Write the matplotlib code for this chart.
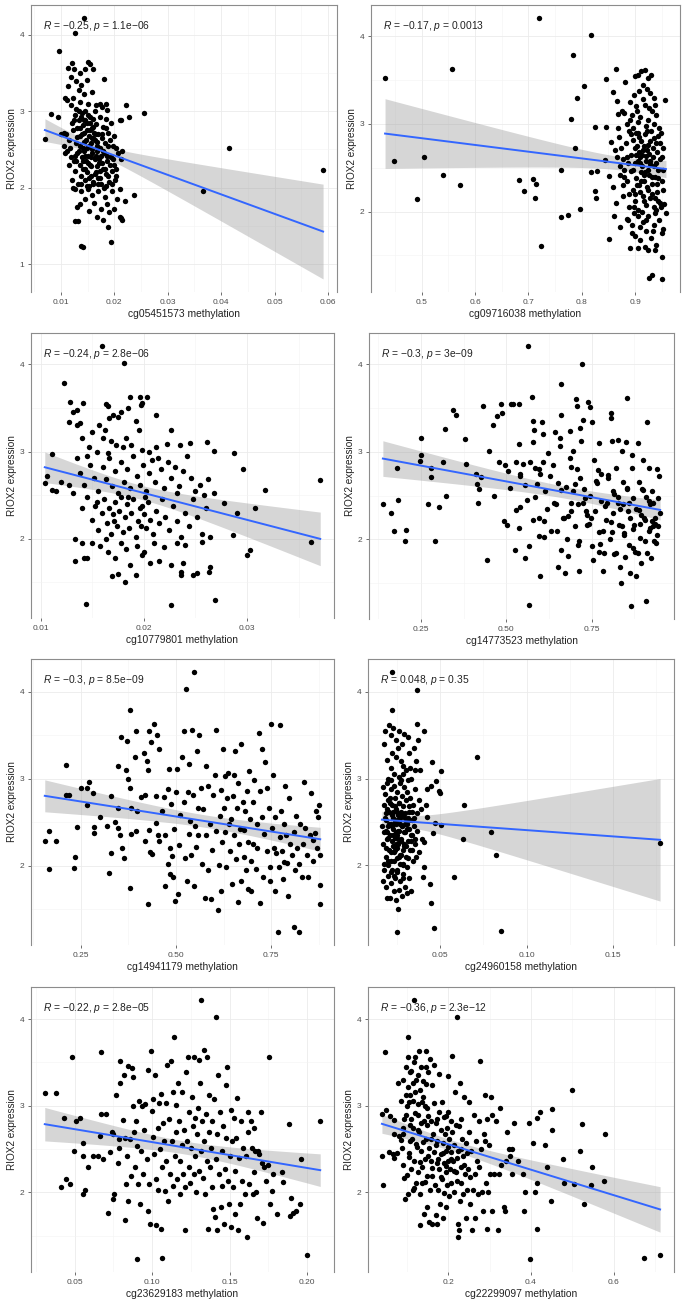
import numpy as np
import matplotlib.pyplot as plt

plt.rcParams['font.family'] = ['Liberation Sans', 'DejaVu Sans']
plt.rcParams['mathtext.fontset'] = 'custom'
plt.rcParams['mathtext.it'] = 'Liberation Sans:italic'
plt.rcParams['mathtext.rm'] = 'Liberation Sans'

# ---- data (methylation, RIOX2 expression) ----
pts1 = [
    (0.0070, 2.64), (0.0096, 3.79), (0.0126, 4.02), (0.0143, 4.22), (0.0081, 2.96), (0.0094, 2.92),
    (0.0255, 2.98), (0.0221, 3.08), (0.0228, 2.93), (0.0213, 2.88), (0.0237, 1.90), (0.0366, 1.95),
    (0.0414, 2.52), (0.0591, 2.23), (0.0137, 1.23), (0.0141, 1.22), (0.0194, 1.29), (0.0188, 1.48),
    (0.0127, 1.56), (0.0132, 1.56),
    (0.0114, 3.57), (0.0121, 3.63), (0.0125, 3.55), (0.0135, 3.50), (0.0146, 3.55), (0.0151, 3.64),
    (0.0155, 3.62), (0.0161, 3.55), (0.0118, 3.45), (0.0128, 3.40), (0.0138, 3.35), (0.0148, 3.41),
    (0.0181, 3.42), (0.0113, 3.33), (0.0133, 3.28), (0.0143, 3.22), (0.0158, 3.25), (0.0123, 3.18),
    (0.0108, 3.18), (0.0112, 3.15), (0.0136, 3.12), (0.0150, 3.10), (0.0166, 3.08), (0.0176, 3.05),
    (0.0185, 3.10), (0.0128, 3.03), (0.0145, 3.00), (0.0173, 3.10), (0.0119, 3.08), (0.0163, 3.00),
    (0.0186, 3.02),
    (0.0110, 2.70), (0.0115, 2.62), (0.0120, 2.85), (0.0123, 2.75), (0.0127, 2.95), (0.0130, 2.66),
    (0.0133, 2.88), (0.0135, 2.78), (0.0138, 2.92), (0.0140, 2.70), (0.0142, 2.82), (0.0144, 2.60),
    (0.0146, 2.88), (0.0148, 2.75), (0.0150, 2.95), (0.0152, 2.68), (0.0154, 2.85), (0.0156, 2.58),
    (0.0158, 2.78), (0.0160, 2.90), (0.0162, 2.72), (0.0164, 2.62), (0.0166, 2.83), (0.0168, 2.55),
    (0.0170, 2.70), (0.0173, 2.93), (0.0176, 2.65), (0.0179, 2.80), (0.0182, 2.58), (0.0185, 2.90),
    (0.0188, 2.72), (0.0191, 2.62), (0.0194, 2.85), (0.0197, 2.55), (0.0200, 2.68), (0.0204, 2.52),
    (0.0210, 2.88), (0.0117, 2.52), (0.0105, 2.72), (0.0100, 2.70), (0.0136, 2.55), (0.0149, 2.52),
    (0.0184, 2.78), (0.0158, 2.65),
    (0.0108, 2.45), (0.0112, 2.48), (0.0115, 2.30), (0.0118, 2.40), (0.0121, 2.10), (0.0124, 2.35),
    (0.0127, 2.22), (0.0130, 2.45), (0.0132, 2.05), (0.0135, 2.30), (0.0137, 2.15), (0.0139, 2.40),
    (0.0141, 2.25), (0.0143, 2.48), (0.0145, 2.10), (0.0147, 2.35), (0.0149, 2.20), (0.0151, 2.42),
    (0.0153, 2.02), (0.0155, 2.30), (0.0157, 2.15), (0.0159, 2.45), (0.0161, 2.08), (0.0163, 2.38),
    (0.0165, 2.20), (0.0167, 2.48), (0.0169, 2.05), (0.0171, 2.32), (0.0173, 2.12), (0.0175, 2.42),
    (0.0178, 2.25), (0.0181, 2.45), (0.0184, 2.18), (0.0187, 2.35), (0.0190, 2.08), (0.0193, 2.40),
    (0.0196, 2.22), (0.0199, 2.30), (0.0203, 2.15), (0.0207, 2.45), (0.0212, 2.38), (0.0215, 2.48),
    (0.0203, 2.25), (0.0105, 2.55), (0.0148, 2.02), (0.0160, 2.05), (0.0126, 2.42),
    (0.0130, 1.75), (0.0135, 1.78), (0.0138, 1.95), (0.0145, 1.85), (0.0152, 1.70), (0.0158, 1.90),
    (0.0162, 1.80), (0.0167, 1.62), (0.0170, 1.95), (0.0175, 1.72), (0.0178, 1.58), (0.0182, 1.88),
    (0.0186, 1.78), (0.0190, 1.68), (0.0195, 1.95), (0.0200, 1.72), (0.0205, 1.85), (0.0210, 1.62),
    (0.0215, 1.58), (0.0220, 1.82), (0.0213, 1.60), (0.0127, 1.98), (0.0210, 1.98), (0.0150, 1.98),
    (0.0123, 2.00),
    (0.0125, 2.88), (0.0128, 2.58), (0.0131, 2.78), (0.0134, 2.48), (0.0136, 2.68), (0.0139, 2.98),
    (0.0141, 2.52), (0.0143, 2.72), (0.0145, 2.42), (0.0147, 2.62), (0.0149, 2.85), (0.0151, 2.32),
    (0.0153, 2.55), (0.0155, 2.75), (0.0157, 2.28), (0.0159, 2.50), (0.0161, 2.65), (0.0163, 2.18),
    (0.0165, 2.42), (0.0167, 2.60), (0.0169, 2.12), (0.0171, 2.38), (0.0173, 2.52), (0.0175, 2.05),
    (0.0177, 2.32), (0.0179, 2.48), (0.0181, 2.00), (0.0183, 2.25), (0.0186, 2.42), (0.0189, 2.15),
    (0.0192, 2.30), (0.0195, 2.05), (0.0198, 2.38), (0.0201, 2.10), (0.0129, 2.35), (0.0137, 2.05),
    (0.0144, 2.88), (0.0152, 2.12), (0.0160, 2.80), (0.0168, 2.28), (0.0176, 2.70), (0.0184, 2.02),
    (0.0133, 3.00), (0.0146, 2.25), (0.0156, 2.40), (0.0166, 2.70), (0.0174, 2.22), (0.0188, 2.55),
    (0.0142, 2.35), (0.0154, 2.92),
]

pts2 = [
    (0.431, 3.53), (0.448, 2.58), (0.491, 2.14), (0.505, 2.62), (0.539, 2.42), (0.557, 3.63),
    (0.571, 2.30), (0.682, 2.36), (0.692, 2.23), (0.709, 2.37), (0.714, 2.32), (0.713, 2.15),
    (0.724, 1.61), (0.720, 4.21), (0.762, 2.48), (0.761, 1.94), (0.774, 1.96), (0.780, 3.06),
    (0.784, 3.79), (0.788, 2.73), (0.792, 3.30), (0.796, 2.03), (0.805, 3.43), (0.818, 4.02),
    (0.818, 2.45), (0.825, 2.97), (0.825, 2.23), (0.827, 2.16), (0.828, 2.46), (0.846, 3.51),
    (0.846, 2.97), (0.844, 2.59), (0.852, 2.41), (0.852, 1.69), (0.855, 2.79), (0.859, 3.36),
    (0.864, 3.63), (0.866, 3.26), (0.868, 3.11), (0.860, 1.95), (0.871, 1.82), (0.882, 3.48),
    (0.887, 1.90), (0.890, 1.58), (0.906, 1.58), (0.926, 1.24), (0.932, 1.27), (0.950, 1.23),
    (0.950, 1.48), (0.956, 3.27), (0.958, 1.98), (0.953, 1.80), (0.955, 2.09), (0.925, 1.56),
    (0.937, 1.56),
    (0.900, 3.55), (0.905, 3.56), (0.912, 3.60), (0.918, 3.62), (0.925, 3.52), (0.930, 3.56),
    (0.915, 3.45), (0.922, 3.40), (0.908, 3.38), (0.898, 3.33), (0.928, 3.35), (0.935, 3.30),
    (0.890, 3.25), (0.902, 3.20), (0.918, 3.22), (0.932, 3.15), (0.880, 3.12), (0.895, 3.10),
    (0.910, 3.08), (0.925, 3.05), (0.940, 3.10), (0.945, 2.95), (0.885, 3.00), (0.905, 3.02),
    (0.920, 2.98), (0.935, 3.00), (0.875, 3.15),
    (0.862, 2.70), (0.870, 2.85), (0.878, 2.60), (0.883, 2.78), (0.888, 2.92), (0.892, 2.65),
    (0.896, 2.82), (0.900, 2.55), (0.903, 2.75), (0.906, 2.90), (0.909, 2.62), (0.912, 2.80),
    (0.915, 2.70), (0.918, 2.88), (0.921, 2.58), (0.924, 2.76), (0.927, 2.66), (0.930, 2.92),
    (0.933, 2.72), (0.936, 2.84), (0.939, 2.56), (0.942, 2.68), (0.946, 2.78), (0.950, 2.62),
    (0.872, 2.52), (0.897, 2.95), (0.913, 2.52), (0.928, 2.54), (0.944, 2.86), (0.866, 2.62),
    (0.908, 2.68), (0.920, 2.64),
    (0.858, 2.28), (0.865, 2.10), (0.872, 2.42), (0.878, 2.18), (0.884, 2.35), (0.888, 2.05),
    (0.892, 2.46), (0.896, 2.25), (0.899, 2.12), (0.902, 2.38), (0.905, 2.02), (0.908, 2.30),
    (0.911, 2.45), (0.914, 2.18), (0.917, 2.35), (0.920, 2.08), (0.923, 2.28), (0.926, 2.42),
    (0.929, 2.15), (0.932, 2.32), (0.935, 2.05), (0.938, 2.40), (0.941, 2.22), (0.944, 2.48),
    (0.947, 2.10), (0.950, 2.35), (0.953, 2.25), (0.880, 2.48), (0.910, 2.22), (0.925, 2.48),
    (0.940, 2.02), (0.900, 2.20), (0.916, 2.42), (0.932, 2.20),
    (0.895, 1.85), (0.900, 1.72), (0.905, 1.95), (0.910, 1.68), (0.915, 1.88), (0.920, 1.78),
    (0.925, 1.95), (0.930, 1.70), (0.935, 1.85), (0.940, 1.62), (0.945, 1.90), (0.950, 1.75),
    (0.898, 1.98), (0.918, 1.60), (0.938, 1.98), (0.885, 1.92),
    (0.868, 2.95), (0.874, 2.72), (0.879, 2.40), (0.884, 2.62), (0.889, 2.20), (0.893, 2.88),
    (0.897, 2.48), (0.901, 2.65), (0.904, 2.30), (0.907, 2.85), (0.910, 2.55), (0.913, 2.00),
    (0.916, 2.75), (0.919, 2.45), (0.922, 2.92), (0.925, 2.25), (0.928, 2.80), (0.931, 2.40),
    (0.934, 2.62), (0.937, 2.15), (0.940, 2.78), (0.943, 2.38), (0.946, 2.60), (0.949, 2.05),
    (0.952, 2.48), (0.891, 3.05), (0.903, 3.15), (0.914, 3.28), (0.926, 3.18), (0.938, 3.22),
    (0.898, 2.05), (0.909, 1.82), (0.921, 1.90), (0.933, 1.78), (0.944, 2.12), (0.886, 2.55),
    (0.899, 2.72), (0.911, 2.35), (0.923, 2.70), (0.936, 2.52), (0.948, 2.90), (0.877, 2.30),
    (0.894, 1.75), (0.906, 2.58), (0.917, 2.12), (0.929, 2.58), (0.941, 2.32), (0.952, 2.72),
    (0.902, 2.90), (0.913, 2.65),
]

pts3 = [
    (0.0104, 2.64), (0.0106, 2.72), (0.0111, 2.97), (0.0111, 2.56), (0.0123, 3.78), (0.0159, 4.21),
    (0.0181, 4.01), (0.0144, 1.25), (0.0226, 1.24), (0.0269, 1.30), (0.0371, 2.67), (0.0362, 1.96),
    (0.0317, 2.56), (0.0308, 2.35), (0.0296, 2.80), (0.0303, 1.87), (0.0300, 1.81), (0.0287, 2.98),
    (0.0290, 2.29), (0.0286, 2.04), (0.0278, 2.41), (0.0268, 3.01), (0.0261, 3.11), (0.0268, 2.52),
    (0.0264, 2.02), (0.0264, 1.68), (0.0263, 1.62), (0.0256, 1.96), (0.0252, 1.61), (0.0248, 1.58),
    (0.0238, 1.72), (0.0236, 1.62), (0.0236, 1.59), (0.0226, 3.25), (0.0222, 3.09), (0.0212, 3.42),
    (0.0198, 1.81), (0.0192, 1.58), (0.0182, 1.50), (0.0169, 1.57), (0.0133, 2.00), (0.0140, 1.95),
    (0.0133, 1.75), (0.0142, 1.78), (0.0145, 1.78), (0.0128, 3.57), (0.0131, 3.45), (0.0135, 3.48),
    (0.0141, 3.56), (0.0127, 3.34), (0.0138, 3.33), (0.0187, 3.62), (0.0196, 3.62), (0.0197, 3.53),
    (0.0198, 3.56), (0.0203, 3.62), (0.0163, 3.54), (0.0165, 3.52),
    (0.0150, 3.22), (0.0157, 3.30), (0.0162, 3.25), (0.0166, 3.38), (0.0170, 3.42), (0.0175, 3.40),
    (0.0178, 3.45), (0.0185, 3.50), (0.0192, 3.35), (0.0195, 3.25), (0.0160, 3.15), (0.0168, 3.12),
    (0.0173, 3.08), (0.0180, 3.05), (0.0183, 3.15), (0.0188, 3.08), (0.0198, 3.02), (0.0147, 3.05),
    (0.0155, 3.00), (0.0165, 2.98), (0.0212, 3.05), (0.0205, 3.00), (0.0235, 3.07), (0.0245, 3.10),
    (0.0140, 3.15), (0.0135, 3.30),
    (0.0135, 2.92), (0.0138, 2.75), (0.0142, 2.62), (0.0148, 2.85), (0.0152, 2.70), (0.0156, 2.55),
    (0.0160, 2.82), (0.0163, 2.68), (0.0166, 2.92), (0.0169, 2.60), (0.0172, 2.78), (0.0175, 2.52),
    (0.0178, 2.88), (0.0181, 2.65), (0.0184, 2.80), (0.0187, 2.58), (0.0190, 2.95), (0.0193, 2.72),
    (0.0196, 2.62), (0.0199, 2.85), (0.0202, 2.55), (0.0205, 2.75), (0.0208, 2.90), (0.0211, 2.65),
    (0.0214, 2.92), (0.0217, 2.80), (0.0220, 2.58), (0.0223, 2.88), (0.0226, 2.70), (0.0230, 2.82),
    (0.0234, 2.60), (0.0238, 2.78), (0.0242, 2.95), (0.0246, 2.70), (0.0250, 2.55), (0.0254, 2.62),
    (0.0258, 2.50), (0.0127, 2.62), (0.0120, 2.65), (0.0115, 2.55), (0.0131, 2.52), (0.0145, 2.95),
    (0.0262, 2.68), (0.0232, 2.52),
    (0.0140, 2.35), (0.0145, 2.48), (0.0150, 2.22), (0.0153, 2.38), (0.0156, 2.10), (0.0159, 2.30),
    (0.0161, 2.45), (0.0164, 2.18), (0.0166, 2.35), (0.0168, 2.05), (0.0170, 2.28), (0.0172, 2.42),
    (0.0174, 2.15), (0.0176, 2.32), (0.0178, 2.48), (0.0180, 2.08), (0.0182, 2.25), (0.0184, 2.40),
    (0.0186, 2.12), (0.0188, 2.30), (0.0190, 2.45), (0.0192, 2.02), (0.0194, 2.20), (0.0196, 2.35),
    (0.0198, 2.38), (0.0200, 2.28), (0.0202, 2.12), (0.0204, 2.42), (0.0206, 2.22), (0.0209, 2.05),
    (0.0212, 2.32), (0.0215, 2.18), (0.0218, 2.45), (0.0221, 2.25), (0.0224, 2.10), (0.0228, 2.38),
    (0.0232, 2.20), (0.0236, 2.02), (0.0240, 2.30), (0.0244, 2.15), (0.0248, 2.45), (0.0252, 2.25),
    (0.0256, 2.05), (0.0260, 2.35), (0.0155, 2.42), (0.0185, 2.48), (0.0201, 2.48), (0.0171, 2.20),
    (0.0197, 2.15), (0.0163, 2.00),
    (0.0158, 1.92), (0.0165, 1.85), (0.0172, 1.78), (0.0178, 1.95), (0.0183, 1.88), (0.0187, 1.70),
    (0.0193, 1.92), (0.0200, 1.85), (0.0206, 1.72), (0.0210, 1.95), (0.0215, 1.75), (0.0220, 1.90),
    (0.0226, 1.70), (0.0232, 1.95), (0.0240, 1.93), (0.0175, 1.60), (0.0150, 1.95),
]

pts4 = [
    (0.139, 2.41), (0.163, 2.30), (0.173, 2.10), (0.180, 2.82), (0.182, 2.45), (0.205, 1.98),
    (0.208, 2.11), (0.250, 3.16), (0.250, 2.96), (0.247, 2.90), (0.271, 2.40), (0.281, 2.82),
    (0.281, 2.71), (0.292, 1.98), (0.304, 2.37), (0.316, 2.89), (0.320, 3.26), (0.325, 2.50),
    (0.343, 3.48), (0.353, 3.42), (0.380, 3.15), (0.382, 2.86), (0.410, 2.75), (0.414, 2.63),
    (0.419, 2.58), (0.417, 2.42), (0.426, 2.71), (0.432, 3.53), (0.445, 1.76), (0.450, 3.01),
    (0.461, 3.31), (0.463, 2.50), (0.472, 3.41), (0.480, 2.88), (0.484, 3.55), (0.487, 3.44),
    (0.494, 2.21), (0.502, 2.17), (0.497, 2.85), (0.505, 2.78), (0.511, 2.59), (0.513, 3.55),
    (0.521, 3.55), (0.538, 3.55), (0.528, 2.89), (0.529, 2.34), (0.526, 1.88), (0.536, 2.13),
    (0.540, 2.37), (0.540, 2.73), (0.538, 3.09), (0.548, 2.86), (0.554, 1.79), (0.562, 2.45),
    (0.566, 1.25), (0.566, 1.92), (0.564, 4.21), (0.576, 3.63), (0.579, 3.35), (0.582, 3.25),
    (0.579, 3.11), (0.584, 2.82), (0.579, 2.22), (0.590, 2.63), (0.595, 2.81), (0.595, 2.25),
    (0.596, 2.04), (0.598, 1.58), (0.603, 3.34), (0.606, 3.20), (0.608, 2.89), (0.610, 2.21),
    (0.610, 2.03), (0.622, 2.99), (0.627, 2.72), (0.637, 2.85), (0.642, 3.23), (0.645, 2.41),
    (0.647, 2.10), (0.652, 1.69), (0.656, 3.16), (0.658, 3.07), (0.661, 3.42), (0.661, 3.78),
    (0.661, 2.56), (0.666, 2.24), (0.671, 1.62), (0.676, 2.60), (0.680, 2.27), (0.681, 1.81),
    (0.685, 3.24), (0.687, 2.93), (0.690, 2.83), (0.690, 2.42), (0.694, 3.01), (0.700, 2.63),
    (0.705, 3.61), (0.706, 3.52), (0.706, 2.81), (0.709, 2.40), (0.710, 1.94), (0.712, 1.64),
    (0.716, 3.27), (0.719, 3.13), (0.722, 4.01), (0.724, 3.37), (0.729, 2.47), (0.732, 2.32),
    (0.736, 2.17), (0.738, 3.57), (0.745, 3.51), (0.748, 2.25), (0.750, 3.34), (0.755, 1.76),
    (0.758, 2.91), (0.761, 2.67), (0.768, 2.79), (0.771, 3.10), (0.772, 1.86), (0.777, 2.44),
    (0.782, 2.10), (0.784, 1.64), (0.789, 2.38), (0.792, 2.22), (0.797, 2.74), (0.802, 2.00),
    (0.806, 3.45), (0.806, 3.39), (0.809, 3.12), (0.811, 2.55), (0.813, 2.30), (0.816, 1.83),
    (0.821, 2.82), (0.826, 3.14), (0.828, 2.48), (0.830, 2.16), (0.832, 1.68), (0.835, 1.50),
    (0.838, 3.01), (0.840, 2.66), (0.842, 2.40), (0.845, 2.07), (0.848, 1.80), (0.851, 3.11),
    (0.854, 3.62), (0.854, 2.59), (0.857, 2.32), (0.859, 1.94), (0.861, 1.62), (0.865, 1.24),
    (0.867, 2.97), (0.869, 2.82), (0.871, 2.47), (0.874, 2.17), (0.877, 1.86), (0.879, 1.58),
    (0.884, 3.10), (0.887, 2.66), (0.889, 2.34), (0.891, 2.02), (0.894, 1.73), (0.899, 2.91),
    (0.900, 2.57), (0.903, 2.24), (0.906, 1.98), (0.910, 1.30), (0.913, 3.34), (0.916, 2.82),
    (0.917, 2.44), (0.919, 2.13), (0.922, 1.79), (0.925, 2.55), (0.927, 2.21), (0.932, 1.98),
    (0.935, 2.18), (0.937, 1.96), (0.941, 2.80), (0.944, 2.47), (0.946, 2.73),
    (0.620, 2.35), (0.632, 2.10), (0.650, 2.65), (0.668, 2.25), (0.678, 2.00), (0.695, 2.55),
    (0.702, 2.15), (0.715, 2.70), (0.725, 2.42), (0.735, 2.28), (0.745, 2.50), (0.752, 1.92),
    (0.760, 2.32), (0.770, 2.08), (0.778, 2.75), (0.786, 1.85), (0.795, 2.42), (0.805, 2.20),
    (0.815, 2.52), (0.822, 1.85), (0.832, 2.35), (0.843, 2.05), (0.852, 2.58), (0.862, 2.25),
    (0.872, 1.90), (0.880, 2.35), (0.890, 2.18), (0.898, 2.58), (0.905, 2.22), (0.912, 1.85),
    (0.920, 2.40), (0.928, 2.15), (0.935, 2.25), (0.942, 2.05), (0.950, 2.30), (0.640, 2.42),
    (0.660, 1.88), (0.688, 2.32), (0.712, 1.98), (0.728, 2.58), (0.742, 2.18), (0.765, 2.65),
    (0.775, 1.95), (0.798, 2.70), (0.810, 2.08), (0.826, 2.42), (0.838, 2.15), (0.858, 2.42),
    (0.870, 2.12), (0.884, 1.85), (0.895, 2.28), (0.908, 2.48), (0.918, 2.10), (0.930, 2.42),
    (0.945, 2.15), (0.540, 2.75), (0.555, 2.62), (0.570, 2.88), (0.585, 2.48), (0.600, 2.75),
    (0.612, 2.55),
]

pts5 = [
    (0.155, 2.29), (0.167, 2.40), (0.167, 1.97), (0.185, 2.29), (0.210, 3.16), (0.210, 2.82),
    (0.218, 2.82), (0.233, 1.98), (0.235, 2.10), (0.241, 2.45), (0.250, 2.90), (0.267, 2.90),
    (0.272, 2.96), (0.266, 2.70), (0.283, 2.84), (0.284, 2.45), (0.284, 2.38), (0.300, 2.56),
    (0.319, 2.46), (0.324, 1.92), (0.330, 2.80), (0.330, 2.15), (0.339, 2.50), (0.347, 2.67),
    (0.347, 2.44), (0.347, 3.15), (0.353, 2.36), (0.356, 3.48), (0.359, 2.21), (0.364, 2.09),
    (0.369, 3.10), (0.372, 3.44), (0.373, 3.00), (0.378, 3.79), (0.380, 2.90), (0.380, 1.75),
    (0.382, 2.67), (0.382, 2.37), (0.391, 3.25), (0.395, 3.55), (0.395, 2.40), (0.397, 2.63),
    (0.408, 2.79), (0.416, 3.30), (0.419, 2.82), (0.419, 2.29), (0.425, 3.21), (0.426, 1.56),
    (0.427, 3.10), (0.429, 3.55), (0.429, 2.41), (0.431, 2.16), (0.434, 3.43), (0.436, 2.14),
    (0.442, 3.63), (0.447, 2.80), (0.448, 2.49), (0.451, 3.51), (0.453, 2.35), (0.455, 3.35),
    (0.455, 2.29), (0.462, 2.63), (0.468, 2.79), (0.470, 2.35), (0.472, 1.77), (0.478, 2.02),
    (0.480, 2.88), (0.481, 3.11), (0.483, 1.91), (0.485, 2.21), (0.488, 2.71), (0.490, 2.11),
    (0.491, 1.87), (0.494, 2.43), (0.497, 1.60), (0.500, 2.85), (0.503, 3.11), (0.504, 1.68),
    (0.507, 2.24), (0.511, 2.59), (0.516, 3.25), (0.520, 3.55), (0.522, 2.73), (0.524, 2.09),
    (0.527, 4.03), (0.529, 1.83), (0.531, 2.85), (0.533, 3.17), (0.534, 2.37), (0.537, 2.52),
    (0.540, 2.13), (0.543, 3.56), (0.545, 2.82), (0.547, 1.77), (0.548, 4.23), (0.550, 2.46),
    (0.552, 2.22), (0.554, 3.32), (0.557, 2.67), (0.559, 2.35), (0.560, 3.51), (0.565, 2.90),
    (0.567, 2.02), (0.572, 2.65), (0.576, 1.63), (0.578, 3.15), (0.580, 2.35), (0.583, 1.95),
    (0.584, 2.92), (0.588, 2.48), (0.593, 1.62), (0.594, 2.18), (0.598, 2.81), (0.602, 3.05),
    (0.604, 2.40), (0.606, 3.56), (0.610, 1.49), (0.612, 2.01), (0.615, 2.57), (0.617, 2.87),
    (0.619, 1.71), (0.621, 2.27), (0.623, 3.34), (0.626, 2.67), (0.628, 3.03), (0.629, 2.39),
    (0.632, 1.99), (0.634, 2.78), (0.636, 3.07), (0.639, 2.48), (0.641, 2.17), (0.645, 2.54),
    (0.647, 1.79), (0.649, 2.80), (0.652, 2.35), (0.653, 3.05), (0.655, 3.32), (0.658, 2.08),
    (0.660, 2.67), (0.662, 1.58), (0.664, 2.95), (0.666, 2.25), (0.669, 2.42), (0.671, 1.83),
    (0.672, 3.40), (0.675, 2.74), (0.678, 2.10), (0.679, 2.41), (0.682, 2.63), (0.684, 1.95),
    (0.686, 2.86), (0.688, 2.27), (0.690, 1.73), (0.692, 3.09), (0.695, 2.54), (0.697, 2.06),
    (0.698, 1.71), (0.701, 2.73), (0.703, 2.25), (0.705, 2.99), (0.709, 1.97), (0.712, 2.48),
    (0.714, 2.21), (0.718, 3.53), (0.721, 2.86), (0.722, 1.57), (0.725, 3.34), (0.727, 2.56),
    (0.729, 1.87), (0.731, 2.37), (0.735, 3.19), (0.738, 2.17), (0.740, 2.90), (0.744, 2.67),
    (0.747, 1.83), (0.748, 1.99), (0.750, 3.63), (0.753, 2.44), (0.755, 3.05), (0.757, 2.21),
    (0.759, 1.71), (0.761, 2.56), (0.764, 2.15), (0.767, 1.24), (0.770, 1.99), (0.772, 3.62),
    (0.774, 2.33), (0.776, 2.63), (0.778, 2.17), (0.781, 1.85), (0.783, 2.48), (0.784, 2.05),
    (0.787, 2.92), (0.790, 2.35), (0.791, 2.03), (0.793, 1.65), (0.798, 2.78), (0.800, 2.25),
    (0.804, 2.13), (0.809, 2.39), (0.811, 1.30), (0.813, 1.95), (0.816, 2.57), (0.817, 2.21),
    (0.822, 2.02), (0.824, 1.24), (0.826, 2.48), (0.830, 1.87), (0.834, 2.25), (0.836, 2.96),
    (0.839, 2.44), (0.843, 2.13), (0.847, 1.87), (0.852, 2.36), (0.856, 2.84), (0.859, 2.06),
    (0.860, 2.30), (0.865, 2.38), (0.869, 2.63), (0.871, 2.21), (0.873, 2.56), (0.876, 2.70),
    (0.878, 1.78), (0.878, 1.56), (0.879, 2.13),
]

pts6 = [
    (0.0710, 3.25), (0.0639, 2.70), (0.0633, 2.30), (0.0580, 1.86), (0.0795, 2.38), (0.0824, 2.12),
    (0.0852, 1.24), (0.1776, 2.26), (0.0504, 3.09), (0.0477, 2.97), (0.0490, 2.86), (0.0500, 2.83),
    (0.0447, 2.92), (0.0453, 3.19), (0.0457, 2.37), (0.0470, 2.49), (0.0506, 2.47), (0.0447, 1.56),
    (0.0462, 1.28), (0.0440, 1.78), (0.0249, 1.23), (0.0252, 1.49), (0.0220, 3.79), (0.0220, 4.23),
    (0.0363, 4.02), (0.0366, 3.63), (0.0405, 3.55), (0.0424, 2.88), (0.0424, 2.56), (0.0414, 2.69),
    (0.0405, 2.27), (0.0402, 1.98), (0.0396, 1.87),
    (0.0180, 3.55), (0.0200, 3.62), (0.0215, 3.50), (0.0225, 3.58), (0.0240, 3.45), (0.0260, 3.55),
    (0.0275, 3.40), (0.0290, 3.52), (0.0310, 3.48), (0.0320, 3.30), (0.0345, 3.35), (0.0370, 3.45),
    (0.0220, 3.30), (0.0240, 3.25), (0.0255, 3.35), (0.0270, 3.20), (0.0285, 3.15), (0.0300, 3.10),
    (0.0325, 3.12), (0.0350, 3.10), (0.0210, 3.12), (0.0190, 3.22), (0.0230, 3.05), (0.0260, 3.02),
    (0.0280, 3.05), (0.0330, 3.00), (0.0175, 3.40), (0.0195, 3.00), (0.0360, 3.20), (0.0380, 3.10),
    (0.0165, 2.90), (0.0172, 2.70), (0.0180, 2.82), (0.0186, 2.60), (0.0192, 2.95), (0.0198, 2.75),
    (0.0204, 2.62), (0.0210, 2.88), (0.0216, 2.70), (0.0222, 2.55), (0.0228, 2.92), (0.0234, 2.78),
    (0.0240, 2.65), (0.0246, 2.85), (0.0252, 2.58), (0.0258, 2.72), (0.0264, 2.95), (0.0270, 2.62),
    (0.0276, 2.80), (0.0282, 2.68), (0.0288, 2.90), (0.0294, 2.55), (0.0300, 2.75), (0.0308, 2.85),
    (0.0316, 2.62), (0.0324, 2.78), (0.0332, 2.52), (0.0340, 2.70), (0.0350, 2.88), (0.0362, 2.60),
    (0.0375, 2.75), (0.0388, 2.65), (0.0185, 2.52), (0.0215, 2.98), (0.0248, 2.52), (0.0270, 2.98),
    (0.0310, 2.98), (0.0345, 2.55), (0.0205, 2.78), (0.0235, 2.68),
    (0.0160, 2.45), (0.0168, 2.25), (0.0175, 2.38), (0.0182, 2.10), (0.0188, 2.30), (0.0194, 2.45),
    (0.0200, 2.18), (0.0206, 2.35), (0.0212, 2.05), (0.0218, 2.28), (0.0224, 2.42), (0.0230, 2.15),
    (0.0236, 2.32), (0.0242, 2.48), (0.0248, 2.08), (0.0254, 2.25), (0.0260, 2.40), (0.0266, 2.12),
    (0.0272, 2.30), (0.0278, 2.45), (0.0284, 2.02), (0.0290, 2.22), (0.0296, 2.38), (0.0302, 2.10),
    (0.0310, 2.28), (0.0318, 2.42), (0.0326, 2.18), (0.0334, 2.35), (0.0342, 2.05), (0.0352, 2.25),
    (0.0365, 2.40), (0.0378, 2.15), (0.0392, 2.30), (0.0170, 2.02), (0.0198, 2.00), (0.0226, 2.22),
    (0.0250, 2.35), (0.0280, 2.18), (0.0305, 2.48), (0.0330, 2.28), (0.0215, 2.48), (0.0245, 2.20),
    (0.0190, 2.38), (0.0360, 2.10), (0.0265, 2.48),
    (0.0175, 1.95), (0.0185, 1.75), (0.0195, 1.88), (0.0205, 1.62), (0.0212, 1.80), (0.0220, 1.95),
    (0.0228, 1.70), (0.0235, 1.85), (0.0242, 1.60), (0.0250, 1.92), (0.0258, 1.72), (0.0266, 1.82),
    (0.0275, 1.65), (0.0285, 1.90), (0.0295, 1.75), (0.0305, 1.68), (0.0315, 1.85), (0.0330, 1.70),
    (0.0165, 1.82), (0.0188, 1.62),
    (0.0178, 2.55), (0.0185, 2.20), (0.0192, 2.65), (0.0198, 2.32), (0.0204, 2.48), (0.0210, 2.15),
    (0.0216, 2.58), (0.0222, 2.35), (0.0228, 2.05), (0.0234, 2.50), (0.0240, 2.25), (0.0246, 2.62),
    (0.0252, 2.40), (0.0258, 2.10), (0.0264, 2.55), (0.0270, 2.28), (0.0276, 2.45), (0.0282, 2.00),
    (0.0288, 2.38), (0.0294, 2.60), (0.0300, 2.22), (0.0306, 2.42), (0.0312, 2.08), (0.0320, 2.52),
    (0.0328, 2.35), (0.0336, 2.18), (0.0344, 2.45), (0.0352, 2.30), (0.0195, 2.05), (0.0213, 1.92),
    (0.0231, 1.88), (0.0249, 1.95), (0.0267, 2.02), (0.0285, 1.85), (0.0303, 1.98), (0.0183, 2.40),
    (0.0207, 2.72), (0.0225, 2.62), (0.0243, 2.38), (0.0261, 2.72), (0.0279, 2.58), (0.0297, 2.48),
    (0.0315, 2.68), (0.0333, 2.62), (0.0219, 2.45), (0.0237, 2.18), (0.0255, 2.30), (0.0273, 2.12),
    (0.0291, 2.25), (0.0309, 2.55),
]

pts7 = [
    (0.0307, 3.15), (0.0377, 3.15), (0.0409, 2.06), (0.0430, 2.86), (0.0447, 2.15), (0.0472, 2.10),
    (0.0483, 3.56), (0.0498, 2.48), (0.0506, 2.82), (0.0536, 2.86), (0.0553, 2.57), (0.0553, 2.42),
    (0.0553, 1.98), (0.0568, 2.03), (0.0583, 2.29), (0.0617, 2.42), (0.0653, 2.42), (0.0668, 3.62),
    (0.0668, 2.90), (0.0663, 2.65), (0.0685, 2.38), (0.0699, 2.90), (0.0718, 1.76), (0.0727, 2.46),
    (0.0740, 2.70), (0.0748, 2.67), (0.0748, 1.92), (0.0752, 1.98), (0.0769, 3.12), (0.0780, 2.34),
    (0.0786, 2.51), (0.0784, 2.61), (0.0791, 3.52), (0.0795, 3.26), (0.0812, 2.83), (0.0816, 3.35),
    (0.0822, 2.63), (0.0825, 1.68), (0.0833, 2.10), (0.0837, 2.42), (0.0844, 3.46), (0.0846, 1.90),
    (0.0854, 2.61), (0.0865, 2.19), (0.0871, 3.43), (0.0875, 3.00), (0.0875, 3.33), (0.0886, 2.70),
    (0.0892, 2.29), (0.0897, 2.82), (0.0901, 2.54), (0.0905, 1.23), (0.0907, 2.10), (0.0918, 3.05),
    (0.0922, 1.87), (0.0928, 2.48), (0.0935, 3.00), (0.0939, 2.21), (0.0950, 2.72), (0.0956, 3.02),
    (0.0965, 2.38), (0.0971, 1.79), (0.0975, 3.41), (0.0982, 2.10), (0.0986, 1.64), (0.0992, 3.63),
    (0.0999, 2.94), (0.1003, 2.64), (0.1007, 3.08), (0.1013, 2.44), (0.1020, 3.35), (0.1024, 1.62),
    (0.1028, 2.15), (0.1035, 2.74), (0.1041, 2.03), (0.1045, 3.03), (0.1049, 2.50), (0.1056, 3.14),
    (0.1060, 1.58), (0.1062, 1.24), (0.1066, 2.29), (0.1073, 2.80), (0.1079, 2.59), (0.1083, 2.02),
    (0.1088, 3.03), (0.1092, 2.36), (0.1098, 3.47), (0.1102, 1.90), (0.1109, 2.85), (0.1113, 2.21),
    (0.1119, 3.51), (0.1126, 2.59), (0.1132, 3.16), (0.1134, 2.07), (0.1141, 3.79), (0.1147, 2.42),
    (0.1151, 2.70), (0.1156, 3.01), (0.1162, 2.15), (0.1168, 3.26), (0.1173, 2.82), (0.1177, 2.36),
    (0.1183, 1.98), (0.1190, 2.55), (0.1194, 3.16), (0.1200, 2.21), (0.1204, 2.72), (0.1209, 1.57),
    (0.1215, 2.06), (0.1219, 3.39), (0.1226, 2.59), (0.1232, 3.56), (0.1236, 2.93), (0.1240, 2.29),
    (0.1247, 2.11), (0.1253, 2.51), (0.1257, 3.10), (0.1262, 2.76), (0.1268, 3.56), (0.1270, 2.21),
    (0.1274, 2.86), (0.1279, 2.42), (0.1285, 2.00), (0.1289, 2.67), (0.1296, 2.97), (0.1300, 2.25),
    (0.1304, 3.53), (0.1310, 3.26), (0.1315, 4.22), (0.1317, 2.48), (0.1321, 2.82), (0.1328, 2.17),
    (0.1332, 2.59), (0.1338, 3.64), (0.1342, 1.98), (0.1346, 2.90), (0.1353, 3.56), (0.1355, 2.36),
    (0.1359, 1.58), (0.1364, 3.12), (0.1368, 2.70), (0.1374, 2.29), (0.1380, 2.51), (0.1385, 2.06),
    (0.1389, 2.82), (0.1395, 1.81), (0.1402, 3.08), (0.1406, 1.71), (0.1410, 4.02), (0.1412, 2.38),
    (0.1416, 2.67), (0.1421, 1.56), (0.1427, 3.35), (0.1431, 2.21), (0.1438, 2.93), (0.1442, 1.83),
    (0.1448, 2.48), (0.1452, 2.07), (0.1459, 2.76), (0.1465, 1.64), (0.1469, 2.27), (0.1474, 2.63),
    (0.1480, 3.24), (0.1486, 3.45), (0.1491, 2.13), (0.1497, 1.87), (0.1501, 2.42), (0.1508, 2.95),
    (0.1512, 1.60), (0.1516, 2.59), (0.1522, 2.06), (0.1529, 2.86), (0.1533, 1.75), (0.1537, 2.25),
    (0.1544, 2.63), (0.1550, 3.09), (0.1554, 1.56), (0.1559, 2.40), (0.1565, 1.87), (0.1571, 2.82),
    (0.1580, 2.13), (0.1586, 2.51), (0.1597, 1.98), (0.1607, 2.42), (0.1614, 1.49), (0.1618, 2.93),
    (0.1622, 2.70), (0.1628, 2.10), (0.1639, 2.82), (0.1643, 2.51), (0.1650, 1.98), (0.1656, 2.74),
    (0.1660, 2.23), (0.1665, 2.48), (0.1671, 2.00), (0.1677, 1.70), (0.1682, 2.48), (0.1692, 2.44),
    (0.1703, 2.93), (0.1707, 2.34), (0.1713, 1.65), (0.1724, 2.29), (0.1734, 2.13), (0.1745, 2.31),
    (0.1756, 3.56), (0.1762, 1.87), (0.1771, 2.02), (0.1783, 2.21), (0.1809, 1.75), (0.1841, 2.23),
    (0.1847, 2.12), (0.1883, 2.79), (0.1889, 1.73), (0.1898, 1.94), (0.1911, 1.76), (0.1926, 1.79),
    (0.1953, 1.87), (0.1964, 2.39), (0.2000, 1.28), (0.2085, 2.82),
]

pts8 = [
    (0.040, 2.90), (0.040, 2.42), (0.043, 2.09), (0.048, 3.62), (0.051, 2.95), (0.058, 2.46),
    (0.066, 2.44), (0.068, 2.40), (0.070, 2.84), (0.070, 2.67), (0.080, 3.26), (0.082, 2.65),
    (0.088, 2.51), (0.090, 2.74), (0.092, 2.67), (0.094, 2.17), (0.096, 1.92), (0.098, 3.12),
    (0.099, 2.89), (0.102, 3.79), (0.102, 3.56), (0.103, 1.98), (0.106, 3.04), (0.106, 2.41),
    (0.107, 3.39), (0.108, 2.59), (0.110, 2.85), (0.111, 2.27), (0.114, 3.26), (0.114, 2.03),
    (0.115, 2.74), (0.118, 4.22), (0.118, 2.36), (0.120, 3.16), (0.120, 3.56), (0.122, 2.56),
    (0.123, 2.11), (0.126, 2.89), (0.126, 3.35), (0.128, 2.24), (0.130, 3.63), (0.130, 2.70),
    (0.131, 1.98), (0.132, 1.62), (0.134, 3.45), (0.134, 2.48), (0.136, 3.04), (0.138, 2.11),
    (0.138, 2.29), (0.139, 3.28), (0.142, 2.82), (0.142, 1.75), (0.144, 2.38), (0.146, 3.45),
    (0.146, 2.61), (0.147, 3.63), (0.148, 2.19), (0.150, 2.97), (0.150, 1.83), (0.152, 3.39),
    (0.154, 1.66), (0.154, 2.51), (0.155, 3.54), (0.156, 2.03), (0.158, 2.82), (0.159, 2.36),
    (0.160, 3.24), (0.162, 2.19), (0.162, 1.63), (0.163, 2.67), (0.165, 3.03), (0.166, 2.46),
    (0.166, 3.47), (0.168, 2.09), (0.170, 2.80), (0.171, 1.74), (0.172, 2.34), (0.174, 1.64),
    (0.174, 2.59), (0.176, 2.03), (0.178, 2.93), (0.178, 3.36), (0.179, 2.27), (0.180, 1.87),
    (0.182, 2.72), (0.183, 2.44), (0.184, 3.04), (0.186, 2.15), (0.187, 1.70), (0.188, 2.57),
    (0.189, 2.34), (0.190, 2.87), (0.191, 1.99), (0.192, 2.67), (0.194, 2.23), (0.195, 2.48),
    (0.195, 1.83), (0.197, 2.74), (0.198, 2.09), (0.199, 2.36), (0.200, 3.34), (0.200, 2.93),
    (0.202, 2.61), (0.203, 1.96), (0.205, 2.27), (0.206, 2.82), (0.207, 2.46), (0.208, 2.11),
    (0.210, 3.57), (0.210, 2.70), (0.211, 2.36), (0.213, 2.00), (0.214, 2.55), (0.216, 3.16),
    (0.218, 2.23), (0.219, 2.78), (0.221, 2.13), (0.222, 4.02), (0.223, 1.64), (0.224, 1.49),
    (0.224, 2.48), (0.226, 2.76), (0.227, 1.57), (0.228, 3.26), (0.229, 1.90), (0.230, 2.29),
    (0.231, 2.11), (0.232, 2.85), (0.234, 2.61), (0.235, 1.98), (0.237, 2.42), (0.238, 3.10),
    (0.240, 2.21), (0.242, 1.70), (0.243, 2.57), (0.246, 2.03), (0.248, 2.27), (0.250, 2.70),
    (0.251, 3.04), (0.254, 1.87), (0.256, 2.48), (0.258, 1.56), (0.259, 2.03), (0.262, 2.89),
    (0.264, 2.21), (0.266, 1.70), (0.267, 2.59), (0.270, 2.36), (0.271, 1.98), (0.274, 2.82),
    (0.275, 2.29), (0.278, 3.51), (0.280, 2.50), (0.282, 2.00), (0.283, 1.79), (0.286, 2.67),
    (0.288, 3.12), (0.290, 2.59), (0.291, 2.11), (0.294, 2.85), (0.294, 1.58), (0.296, 2.00),
    (0.298, 2.55), (0.302, 2.21), (0.304, 3.10), (0.306, 1.79), (0.307, 2.89), (0.310, 2.21),
    (0.315, 2.82), (0.320, 1.56), (0.322, 2.21), (0.326, 2.97), (0.328, 2.31), (0.334, 1.83),
    (0.338, 1.79), (0.339, 2.36), (0.342, 2.70), (0.346, 2.50), (0.350, 2.42), (0.355, 2.50),
    (0.360, 2.80), (0.354, 2.21), (0.368, 2.36), (0.382, 2.21), (0.384, 1.79), (0.386, 2.00),
    (0.395, 2.80), (0.398, 1.23), (0.406, 2.57), (0.411, 2.00), (0.414, 2.11), (0.414, 1.58),
    (0.414, 2.86), (0.422, 2.93), (0.434, 2.55), (0.438, 2.29), (0.448, 1.90), (0.450, 2.96),
    (0.451, 2.72), (0.478, 2.38), (0.480, 2.11), (0.500, 3.18), (0.503, 2.10), (0.519, 2.48),
    (0.523, 2.79), (0.528, 1.87), (0.547, 2.29), (0.546, 2.09), (0.576, 2.13), (0.579, 2.67),
    (0.672, 1.24), (0.712, 1.28),
    (0.092, 2.32), (0.100, 2.20), (0.105, 2.45), (0.112, 2.62), (0.118, 2.05), (0.125, 2.52),
    (0.132, 2.35), (0.140, 2.58), (0.145, 2.12), (0.152, 2.42), (0.158, 2.62), (0.162, 2.28),
    (0.170, 2.55), (0.176, 2.38), (0.182, 2.18), (0.188, 2.45), (0.195, 2.30), (0.200, 2.52),
    (0.208, 2.38), (0.215, 2.25), (0.222, 2.40), (0.230, 2.50), (0.238, 2.32), (0.245, 2.45),
    (0.252, 2.18), (0.126, 2.72), (0.148, 2.78), (0.172, 2.85), (0.196, 2.88), (0.085, 2.60),
    (0.076, 2.45), (0.060, 2.88),
    (0.086, 3.05), (0.090, 3.30), (0.094, 2.85), (0.097, 3.45), (0.100, 3.00), (0.104, 3.22),
    (0.108, 2.78), (0.111, 3.40), (0.115, 3.05), (0.119, 2.92), (0.122, 3.30), (0.127, 3.02),
    (0.131, 3.18), (0.135, 2.80), (0.139, 3.10), (0.143, 3.00), (0.147, 3.25), (0.151, 2.88),
    (0.118, 3.50), (0.109, 3.12),
]

panels = [pts1, pts2, pts3, pts4, pts5, pts6, pts7, pts8]
probes = ['cg05451573', 'cg09716038', 'cg10779801', 'cg14773523',
          'cg14941179', 'cg24960158', 'cg23629183', 'cg22299097']
r_text = ['\u22120.25', '\u22120.17', '\u22120.24', '\u22120.3',
          '\u22120.3', '0.048', '\u22120.22', '\u22120.36']
p_text = ['1.1e\u221206', '0.0013', '2.8e\u221206', '3e\u221209',
          '8.5e\u221209', '0.35', '2.8e\u221205', '2.3e\u221212']
x_ticks = [[0.01, 0.02, 0.03, 0.04, 0.05, 0.06], [0.5, 0.6, 0.7, 0.8, 0.9],
           [0.01, 0.02, 0.03], [0.25, 0.50, 0.75], [0.25, 0.50, 0.75],
           [0.05, 0.10, 0.15], [0.05, 0.10, 0.15, 0.20], [0.2, 0.4, 0.6]]
x_labels = [['0.01', '0.02', '0.03', '0.04', '0.05', '0.06'], ['0.5', '0.6', '0.7', '0.8', '0.9'],
            ['0.01', '0.02', '0.03'], ['0.25', '0.50', '0.75'], ['0.25', '0.50', '0.75'],
            ['0.05', '0.10', '0.15'], ['0.05', '0.10', '0.15', '0.20'], ['0.2', '0.4', '0.6']]
y_ticks = [[1, 2, 3, 4]] + [[2, 3, 4]] * 7

# panel boxes in pixels: left, right, top, bottom
W, H = 683, 1304
boxes = [(31, 337, 5, 292), (371, 680, 5, 292),
         (31, 334, 333, 618), (369, 674, 333, 619),
         (31, 334, 659, 945), (368, 674, 659, 945),
         (31, 334, 987, 1272), (368, 674, 987, 1272)]


def lm_band(x, y, n=80):
    b, a = np.polyfit(x, y, 1)
    xs = np.linspace(x.min(), x.max(), n)
    fit = a + b * xs
    res = y - (a + b * x)
    s = np.sqrt(np.sum(res ** 2) / (len(x) - 2))
    se = s * np.sqrt(1 / len(x) + (xs - x.mean()) ** 2 / np.sum((x - x.mean()) ** 2))
    return xs, fit, fit - 1.97 * se, fit + 1.97 * se


def mids(t, lo, hi):
    t = np.array(t, dtype=float)
    step = t[1] - t[0]
    m = np.arange(t[0] - step / 2, hi + step, step)
    return m[(m > lo) & (m < hi)]


fig = plt.figure(figsize=(W / 100, H / 100), dpi=100)

for i, pts in enumerate(panels):
    l, r, t, b = boxes[i]
    ax = fig.add_axes([l / W, 1 - b / H, (r - l) / W, (b - t) / H])
    x = np.array([p[0] for p in pts])
    y = np.array([p[1] for p in pts])
    xs, fit, lo, hi = lm_band(x, y)

    ax.fill_between(xs, lo, hi, color='#999999', alpha=0.4, lw=0, zorder=2)
    ax.scatter(x, y, s=15, color='black', lw=0, zorder=3)
    ax.plot(xs, fit, color='#3366FF', lw=1.4, zorder=4)

    xr = x.max() - x.min()
    ax.set_xlim(x.min() - 0.05 * xr, x.max() + 0.05 * xr)
    ymin = min(y.min(), lo.min())
    ymax = max(y.max(), hi.max())
    yr = ymax - ymin
    ax.set_ylim(ymin - 0.05 * yr, ymax + 0.05 * yr)

    ax.set_xticks(x_ticks[i])
    ax.set_xticklabels(x_labels[i])
    ax.set_yticks(y_ticks[i])
    ax.set_yticklabels([str(v) for v in y_ticks[i]])
    x0, x1 = ax.get_xlim()
    y0, y1 = ax.get_ylim()
    ax.set_xticks(mids(x_ticks[i], x0, x1), minor=True)
    ax.set_yticks(mids(y_ticks[i], y0, y1), minor=True)

    ax.grid(which='major', color='#EBEBEB', lw=0.6, zorder=0)
    ax.grid(which='minor', color='#F3F3F3', lw=0.4, zorder=0)
    ax.set_axisbelow(True)
    ax.tick_params(which='major', length=2.2, width=0.6, color='#555555',
                   labelsize=6, labelcolor='#4D4D4D', pad=2.5)
    ax.tick_params(which='minor', length=0)
    for side in ['left', 'top', 'right']:
        ax.spines[side].set_color('#8C8C8C')
        ax.spines[side].set_linewidth(0.8)
    ax.spines['bottom'].set_visible(False)

    ax.set_xlabel(probes[i] + ' methylation', fontsize=7.4, color='#222222', labelpad=2.5)
    ax.set_ylabel('RIOX2 expression', fontsize=7.2, color='#222222', labelpad=2)
    ax.text(12 / (r - l), 1 - 21 / (b - t),
            r'$\it{R}$' + ' = ' + r_text[i] + ', ' + r'$\it{p}$' + ' = ' + p_text[i],
            transform=ax.transAxes, fontsize=7.4, color='#222222', va='center', ha='left')

fig.savefig('out.png', dpi=100)
